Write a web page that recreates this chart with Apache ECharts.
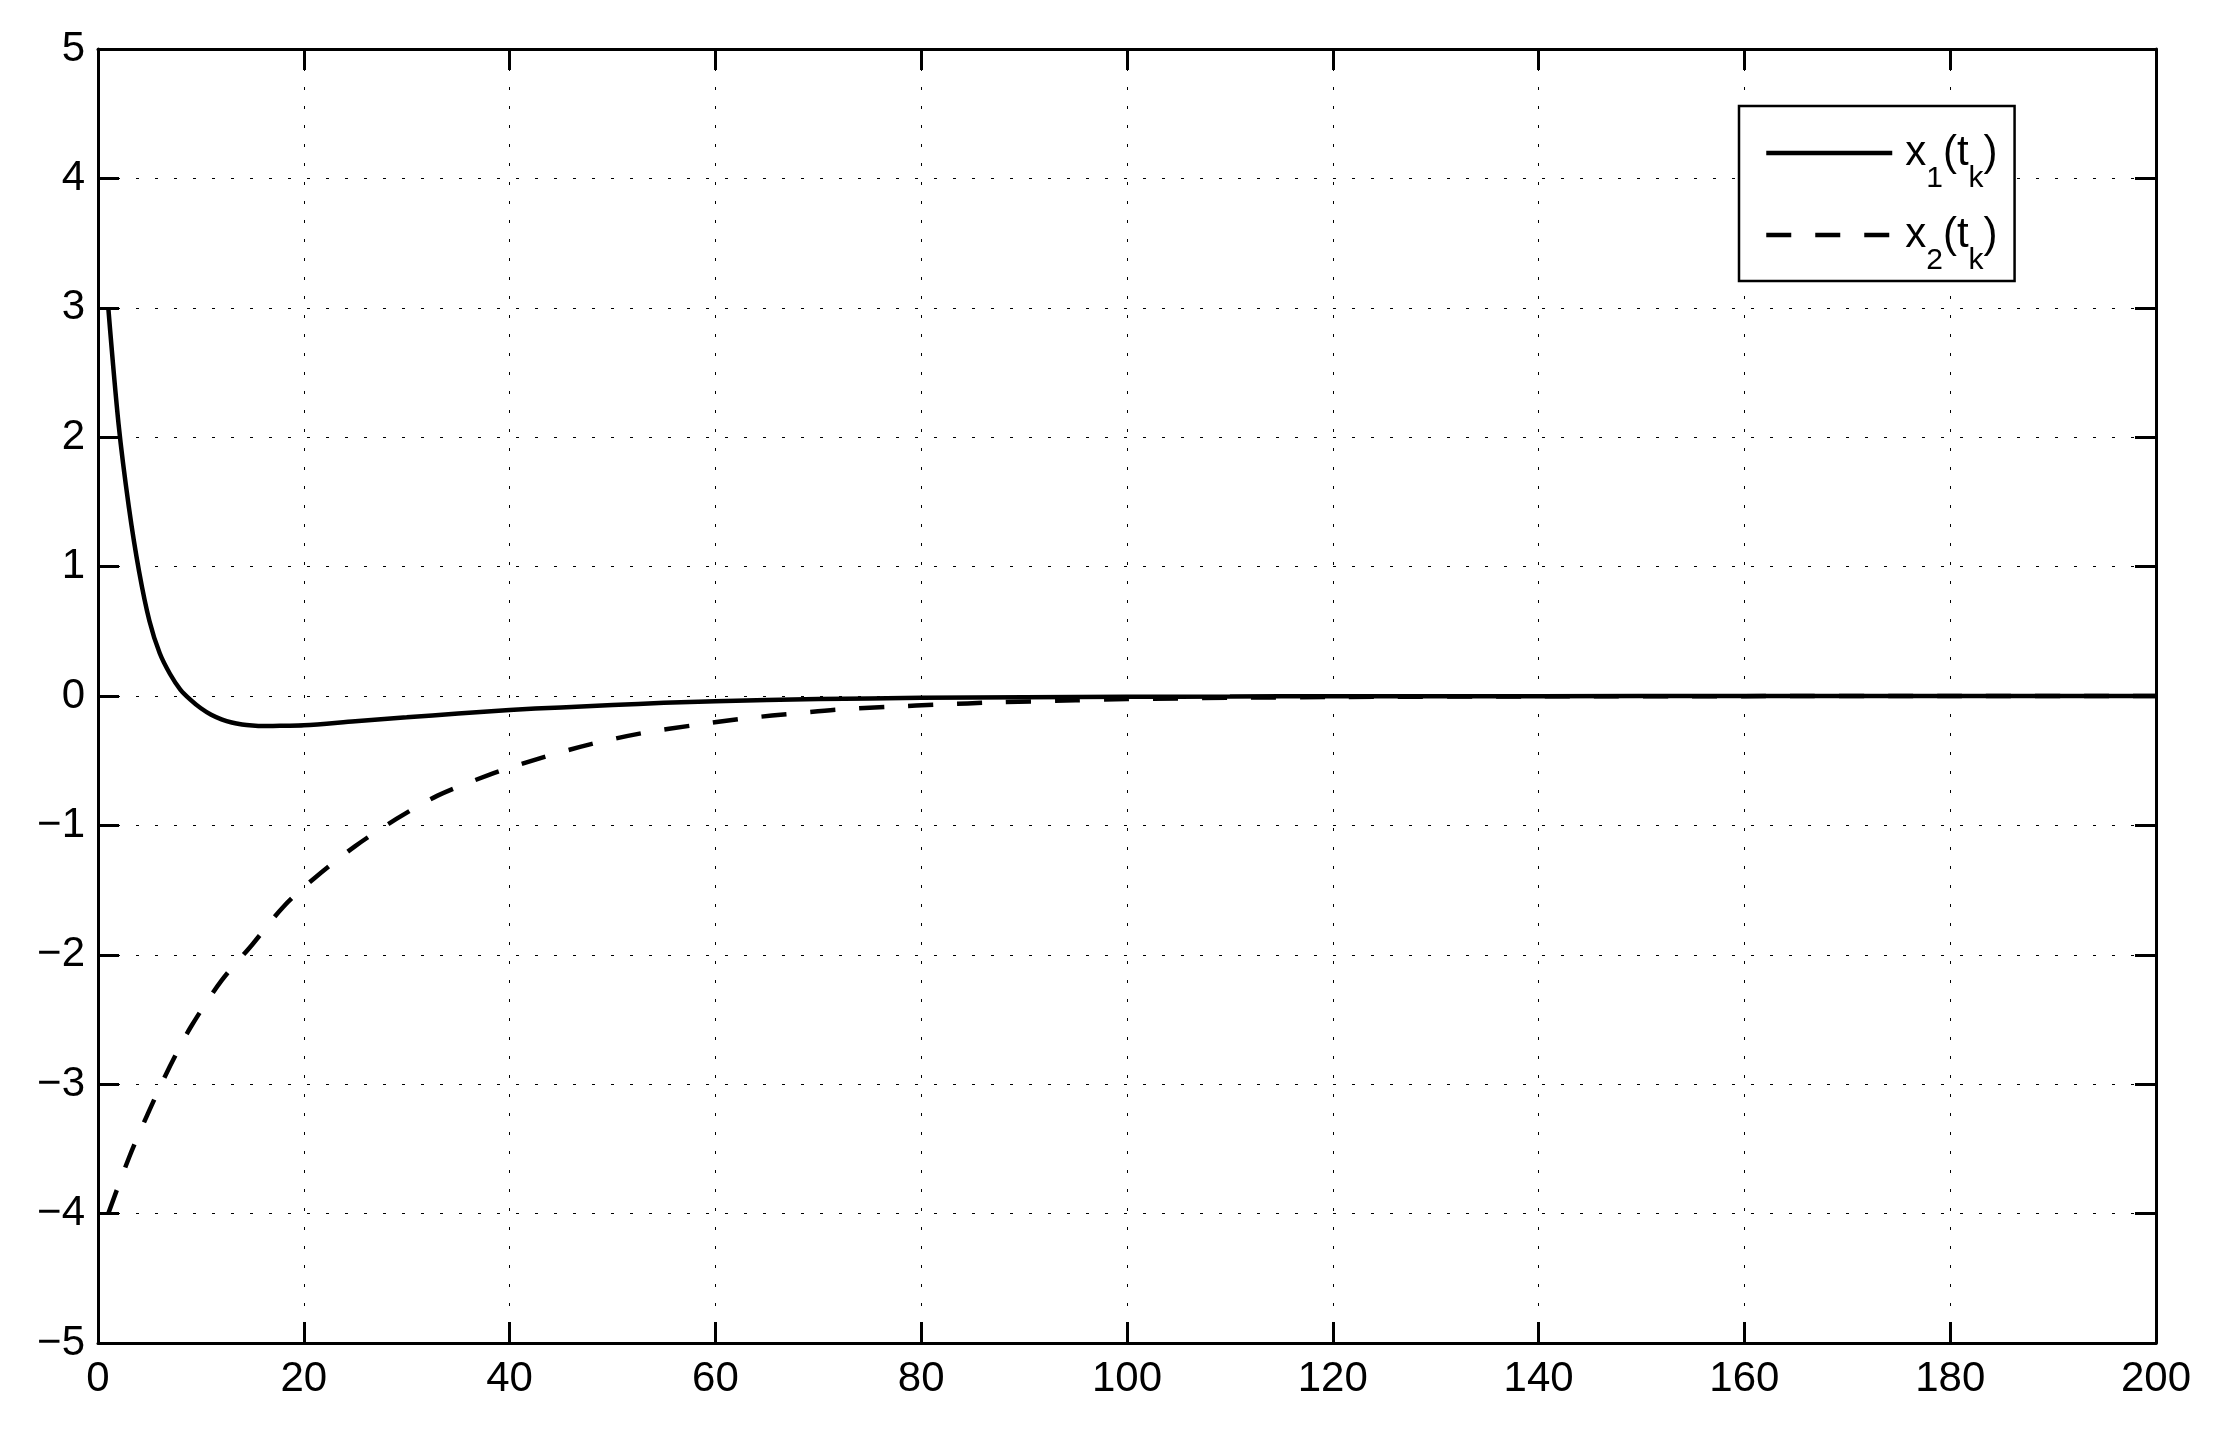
<!DOCTYPE html>
<html>
  <head>
    <meta charset="utf-8">
    <title>x1(tk), x2(tk)</title>
    <script src="https://cdn.jsdelivr.net/npm/echarts@6/dist/echarts.min.js"></script>
    <style type="text/css">
      html, body { margin: 0; padding: 0; background: #fff; }
      #main { width: 2218px; height: 1448px; }
    </style>
  </head>
  <body>
    <div id="main"></div>
    <script type="text/javascript">
      // values
      var t1 = [1, 2, 3, 4, 5, 6, 7, 8, 9, 10, 11, 12, 13, 14, 15, 16, 17, 18, 20, 25, 30, 35, 40, 45, 50, 55, 60, 70, 80, 90, 100, 110, 120, 140, 160, 200];
      var x1 = [3, 2.1, 1.46, 0.96, 0.58, 0.33, 0.17, 0.05, -0.03, -0.095, -0.145, -0.18, -0.205, -0.22, -0.228, -0.232, -0.232, -0.23, -0.226, -0.195, -0.165, -0.135, -0.108, -0.088, -0.07, -0.053, -0.04, -0.024, -0.014, -0.009, -0.006, -0.004, -0.002, -0.001, 0, 0];

      var t2 = [1, 3, 5, 7, 9, 12, 15, 18, 21, 25, 29, 33, 38, 43, 48, 53, 58, 63, 68, 72, 77, 82, 87, 95, 100, 110, 120, 140, 160, 180, 200];
      var x2 = [-4, -3.57, -3.2, -2.86, -2.56, -2.2, -1.92, -1.63, -1.41, -1.16, -0.95, -0.77, -0.61, -0.48, -0.37, -0.285, -0.225, -0.172, -0.133, -0.105, -0.083, -0.065, -0.05, -0.033, -0.024, -0.014, -0.008, -0.003, -0.001, 0, 0];

      var xTicks = [0, 200, 20];   // min, max, step
      var yTicks = [-5, 5, 1];

      function pairs(t, v) {
        var out = [];
        for (var i = 0; i < t.length; i++) out.push([t[i], v[i]]);
        return out;
      }

      var myChart = echarts.init(document.getElementById('main'), null, { renderer: 'canvas' });
      var font = 'Liberation Sans';
      var black = '#000';

      // top / right axes only close the box (ticks, no labels)
      var frameAxis = {
        axisLine: { show: true, onZero: false, lineStyle: { color: black, width: 3 } },
        axisTick: { show: true, inside: true, length: 21, lineStyle: { color: black, width: 3 } },
        axisLabel: { show: false },
        splitLine: { show: false }
      };

      var legendRich = {
        f: { fontFamily: font, fontSize: 42, color: black, padding: [0, 0, 0, 8] },
        n: { fontFamily: font, fontSize: 42, color: black },
        s: { fontFamily: font, fontSize: 30, lineHeight: 30, color: black, padding: [52, 0, 0, 0] }
      };

      var option = {
        backgroundColor: '#fff',
        animation: false,
        grid: { left: 98, top: 49, width: 2058, height: 1294, containLabel: false },
        legend: {
          orient: 'vertical',
          left: 1739,
          top: 106,
          padding: [6, 17, 5, 25],
          itemWidth: 126,
          itemHeight: 40,
          itemGap: 0,
          itemTextGap: 18,
          borderColor: black,
          borderWidth: 2.5,
          borderRadius: 0,
          backgroundColor: '#fff',
          itemStyle: { color: 'transparent', borderWidth: 0 },
          lineStyle: { width: 4.5 },
          textStyle: { fontFamily: font, fontSize: 42, color: black, rich: legendRich },
          formatter: function (name) {
            return name === 'x1' ? '{f|x}{s|1}{n|(t}{s|k}{n|)}' : '{f|x}{s|2}{n|(t}{s|k}{n|)}';
          },
          data: ['x1', 'x2']
        },
        xAxis: [
          {
            type: 'value', position: 'bottom',
            min: xTicks[0], max: xTicks[1], interval: xTicks[2],
            axisLine: { show: true, onZero: false, lineStyle: { color: black, width: 3 } },
            axisTick: { show: true, inside: true, length: 21, lineStyle: { color: black, width: 3 } },
            axisLabel: { color: black, fontFamily: font, fontSize: 42, margin: 15 },
            splitLine: { show: true, lineStyle: { color: black, width: 1, type: [3, 16] } }
          },
          Object.assign({ type: 'value', position: 'top', min: xTicks[0], max: xTicks[1], interval: xTicks[2] }, frameAxis)
        ],
        yAxis: [
          {
            type: 'value', position: 'left',
            min: yTicks[0], max: yTicks[1], interval: yTicks[2],
            axisLine: { show: true, onZero: false, lineStyle: { color: black, width: 3 } },
            axisTick: { show: true, inside: true, length: 21, lineStyle: { color: black, width: 3 } },
            axisLabel: {
              color: black, fontFamily: font, fontSize: 42, margin: 13,
              formatter: function (v) { return String(v).replace('-', '\u2212'); }
            },
            splitLine: { show: true, lineStyle: { color: black, width: 1, type: [3, 16] } }
          },
          Object.assign({ type: 'value', position: 'right', min: yTicks[0], max: yTicks[1], interval: yTicks[2] }, frameAxis)
        ],
        series: [
          {
            name: 'x1', type: 'line', xAxisIndex: 0, yAxisIndex: 0,
            symbol: 'none', smooth: 0.3,
            lineStyle: { color: black, width: 4.5 },
            itemStyle: { color: black },
            data: pairs(t1, x1),
            z: 3
          },
          {
            name: 'x2', type: 'line', xAxisIndex: 0, yAxisIndex: 0,
            symbol: 'none', smooth: 0.3,
            lineStyle: { color: black, width: 4.5, type: [25, 24] },
            itemStyle: { color: black },
            data: pairs(t2, x2),
            z: 2
          }
        ]
      };

      myChart.setOption(option);
    </script>
  </body>
</html>
